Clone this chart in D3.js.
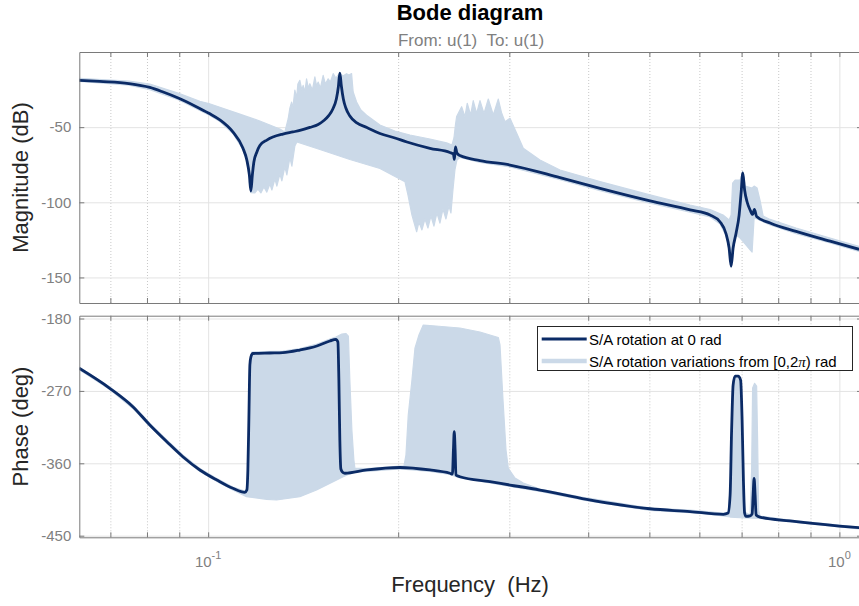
<!DOCTYPE html>
<html>
<head>
<meta charset="utf-8">
<title>Bode diagram</title>
<script src="https://d3js.org/d3.v7.min.js"></script>
<style>
body { margin: 0; background: #fff; }
text { font-family: "Liberation Sans", Arial, Helvetica, sans-serif; }
</style>
</head>
<body>
<script>
// nominal response, S/A rotation at 0 rad
var magFreq = [0.06247,0.06736,0.07488,0.08084,0.08445,0.08985,0.09526,0.10026,0.10436,0.10943,
  0.11350,0.11516,0.11622,0.11686,0.11750,0.11815,0.11945,0.12076,0.12388,0.12662,
  0.13133,0.13620,0.13972,0.14492,0.14938,0.15252,0.15534,0.15759,0.15962,0.16079,0.16167,
  0.16256,0.16375,0.16525,0.16768,0.17202,0.17841,0.18713,0.19765,0.20650,0.22458,
  0.24156,0.24466,0.24555,0.24645,0.24780,0.25053,0.26955,0.30075,0.36090,0.41771,
  0.50119,0.58005,0.62403,0.64721,0.66153,0.66882,0.67372,0.67865,0.68612,0.69368,
  0.69875,0.70310,0.70772,0.71421,0.72207,0.72869,0.73349,0.73941,0.77672,0.85395,
  0.96663,1.0745];
var magDb = [-18.8,-19.6,-21.0,-23.6,-26.3,-30.8,-35.9,-40.8,-45.2,-53.2,
  -63.9,-71.9,-81.8,-92.5,-81.8,-73.2,-66.5,-62.2,-58.6,-56.6,
  -54.6,-53.2,-52.2,-50.2,-48.2,-45.6,-42.2,-37.9,-31.3,-23.3,-14.0,
  -22.6,-31.3,-37.3,-42.6,-47.2,-50.2,-54.2,-57.2,-59.9,-64.1,
  -66.9,-67.9,-71.5,-63.2,-67.2,-68.9,-72.2,-75.2,-83.6,-90.8,
  -99.1,-105.1,-108.5,-113.1,-121.1,-130.4,-142.4,-130.4,-120.4,-108.5,
  -93.8,-80.5,-91.8,-99.8,-105.1,-108.1,-104.8,-109.4,-113.8,-119.4,
  -125.8,-131.3];

var phaseFreq = [0.06247,0.06985,0.07598,0.08084,0.08602,0.09119,0.09702,0.10323,0.10943,0.11433,
  0.11516,0.11559,0.11601,0.11644,0.11686,0.11772,0.12525,0.13133,0.13972,0.14867,
  0.15590,0.15935,0.16052,0.16110,0.16167,0.16228,0.16347,0.16467,0.17841,0.20130,
  0.22458,0.24156,0.24379,0.24466,0.24539,0.24619,0.24691,0.25053,0.27958,0.30075,
  0.33548,0.39781,0.50119,0.58005,0.65504,0.66638,0.67126,0.67496,0.67865,0.68363,
  0.69115,0.69748,0.70131,0.70465,0.70772,0.71161,0.72207,0.72736,0.73002,0.73269,
  0.73537,0.73806,0.74850,0.83546,1.0,1.0745];
var phaseDeg = [-241.9,-266.8,-289.6,-312.4,-333.2,-351.8,-368.3,-380.8,-391.1,-396.1,
  -393.2,-368.3,-306.2,-237.8,-227.9,-223.5,-222.9,-222.5,-219.2,-214.2,
  -208.0,-205.9,-209.2,-256.5,-331.0,-367.1,-371.4,-372.4,-368.3,-365.2,
  -368.3,-372.4,-373.3,-343.5,-320.7,-343.5,-374.6,-376.7,-382.9,-387.0,
  -393.2,-404.8,-416.5,-420.0,-423.4,-421.8,-399.4,-318.6,-262.7,-251.5,
  -251.5,-256.5,-306.2,-380.8,-421.8,-426.1,-425.5,-423.0,-399.4,-378.9,
  -399.4,-424.3,-426.8,-431.7,-438.0,-440.1];

// envelope of the variations over [0,2pi) rad : [freq Hz, value]
var magBandTop = [[0.06247,-17.5],[0.07488,-19.3],[0.08084,-21.3],[0.08985,-27.5],[0.09702,-32.8],
  [0.10026,-34.3],[0.11226,-41.3],[0.12076,-45.9],[0.12990,-51.2],[0.13229,-53.2],[0.13390,-44.4],
  [0.13473,-37.3],[0.13557,-33.3],[0.13620,-37.3],[0.13721,-25.3],[0.13806,-30.6],[0.13872,-21.3],
  [0.13972,-18.8],[0.14075,-25.3],[0.14142,-22.2],[0.14230,-26.6],[0.14319,-17.8],[0.14413,-24.0],
  [0.14492,-21.1],[0.14625,-25.3],[0.14759,-16.6],[0.14851,-22.6],[0.14938,-20.0],[0.15058,-24.0],
  [0.15213,-15.5],[0.15336,-21.3],[0.15493,-17.8],[0.15618,-20.0],[0.15779,-14.4],[0.15935,-17.3],
  [0.16167,-13.8],[0.16347,-16.0],[0.16569,-14.4],[0.16709,-15.3],[0.16874,-14.4],[0.16973,-26.6],
  [0.17186,-33.3],[0.17458,-38.6],[0.17825,-42.1],[0.18713,-48.6],[0.19765,-52.6],[0.20878,-55.2],
  [0.22458,-57.9],[0.23869,-60.5],[0.24334,-61.9],[0.24512,-57.2],[0.24645,-48.6],[0.24754,-43.0],
  [0.24963,-39.9],[0.25210,-36.4],[0.25515,-43.0],[0.25730,-34.1],[0.26051,-41.9],[0.26300,-32.4],
  [0.26628,-40.8],[0.26955,-32.4],[0.27352,-40.8],[0.27785,-31.3],[0.28297,-41.9],[0.28818,-31.3],
  [0.29178,-40.8],[0.29531,-46.4],[0.30075,-44.1],[0.30819,-54.1],[0.31569,-64.1],[0.33548,-71.9],
  [0.36090,-78.5],[0.41771,-86.2],[0.50119,-95.1],[0.58005,-101.8],[0.62403,-104.8],[0.65433,-108.5],
  [0.66882,-111.8],[0.67372,-108.5],[0.67742,-87.2],[0.68363,-85.2],[0.69621,-85.2],[0.70310,-79.8],
  [0.70902,-89.2],[0.72736,-90.5],[0.73269,-89.2],[0.74075,-90.5],[0.74850,-98.5],[0.75716,-109.1],
  [0.77672,-111.4],[0.85395,-117.1],[0.96663,-123.8],[1.0745,-129.4]];
var magBandBottom = [[0.06247,-19.6],[0.07488,-22.0],[0.08084,-25.0],[0.08985,-31.9],[0.09702,-38.9],
  [0.10026,-41.9],[0.10436,-46.2],[0.10943,-54.2],[0.11350,-64.9],[0.11516,-72.9],[0.11622,-83.2],
  [0.11686,-93.5],[0.11858,-93.8],[0.11989,-91.2],[0.12121,-93.8],[0.12254,-89.8],[0.12388,-93.2],
  [0.12525,-87.8],[0.12617,-91.8],[0.12756,-84.5],[0.12849,-89.2],[0.12990,-81.2],[0.13085,-85.8],
  [0.13229,-76.5],[0.13326,-81.8],[0.13473,-70.5],[0.13572,-75.9],[0.13721,-62.5],[0.13821,-59.9],
  [0.15031,-64.9],[0.16768,-71.5],[0.18713,-77.5],[0.20500,-86.3],[0.20726,-95.1],[0.21031,-108.5],
  [0.21395,-119.6],[0.21575,-113.1],[0.21812,-118.4],[0.22052,-111.1],[0.22295,-117.1],[0.22540,-109.1],
  [0.22788,-115.8],[0.23039,-107.1],[0.23292,-113.8],[0.23549,-104.5],[0.23808,-111.1],[0.24070,-102.5],
  [0.24246,-107.1],[0.24423,-91.8],[0.24601,-78.5],[0.24780,-71.9],[0.25053,-70.2],[0.26955,-73.5],
  [0.30075,-76.5],[0.36090,-85.0],[0.41771,-92.2],[0.50119,-100.5],[0.58005,-106.5],[0.62403,-109.8],
  [0.64721,-114.4],[0.66153,-122.4],[0.66882,-131.7],[0.67372,-143.4],[0.67865,-131.7],[0.68612,-121.8],
  [0.69621,-123.8],[0.70902,-127.7],[0.72207,-131.7],[0.72736,-133.1],[0.73269,-110.4],[0.74075,-111.1],
  [0.77672,-115.1],[0.85395,-120.8],[0.96663,-127.1],[1.0745,-132.7]];

var phaseBandTop = [[0.06247,-240.3],[0.06985,-265.2],[0.07598,-287.5],[0.08084,-310.5],[0.08602,-331.0],
  [0.09119,-349.7],[0.09702,-366.5],[0.10323,-378.9],[0.10943,-389.5],[0.11433,-394.4],[0.11516,-392.0],
  [0.11559,-368.3],[0.11601,-306.2],[0.11644,-234.1],[0.11729,-221.6],[0.13133,-220.4],[0.13972,-217.3],
  [0.14867,-211.7],[0.15590,-205.5],[0.15935,-203.0],[0.16288,-199.3],[0.16525,-198.6],[0.16679,-201.8],
  [0.16768,-256.5],[0.16893,-318.6],[0.17017,-355.9],[0.17079,-365.9],[0.17841,-366.5],[0.20130,-363.4],
  [0.20425,-363.4],[0.20575,-349.7],[0.20749,-300.0],[0.21031,-256.5],[0.21263,-217.0],[0.21575,-200.5],
  [0.21916,-188.1],[0.22458,-188.7],[0.25053,-191.8],[0.26955,-196.8],[0.28818,-203.6],[0.28997,-212.9],
  [0.29316,-281.3],[0.29639,-343.5],[0.29889,-366.2],[0.30628,-378.3],[0.31569,-384.5],[0.33548,-392.0],
  [0.39781,-403.1],[0.50119,-415.6],[0.58005,-418.1],[0.65433,-421.8],[0.66638,-420.5],[0.67126,-399.4],
  [0.67496,-318.6],[0.67865,-262.7],[0.68363,-251.5],[0.69115,-251.5],[0.69748,-256.5],[0.70131,-306.2],
  [0.70465,-380.8],[0.70772,-420.5],[0.72207,-424.3],[0.72604,-368.3],[0.72869,-266.4],[0.73403,-260.6],
  [0.73941,-263.9],[0.74211,-331.0],[0.74483,-418.1],[0.74850,-425.5],[0.83546,-430.5],[1.0745,-439.2]];
var phaseBandBottom = [[0.06247,-243.5],[0.06985,-268.4],[0.07598,-291.8],[0.08084,-314.3],[0.08602,-335.3],
  [0.09119,-353.9],[0.09702,-370.2],[0.10323,-382.6],[0.10943,-393.2],[0.11504,-401.5],[0.12376,-404.8],
  [0.12835,-405.6],[0.13972,-401.5],[0.14851,-393.2],[0.15779,-382.9],[0.16365,-376.7],[0.17079,-370.4],
  [0.17841,-370.2],[0.20130,-367.1],[0.22458,-370.2],[0.24156,-373.9],[0.25053,-378.3],[0.27958,-384.5],
  [0.30075,-388.8],[0.33548,-395.1],[0.39781,-406.3],[0.50119,-418.7],[0.58005,-421.2],[0.65433,-425.5],
  [0.67126,-426.8],[0.70902,-428.0],[0.74850,-428.6],[0.83546,-433.0],[1.0745,-441.7]];

var xMajor = [0.1, 1];
var xMinor = [0.07, 0.08, 0.09, 0.2, 0.3, 0.4, 0.5, 0.6, 0.7, 0.8, 0.9];
var xTickLabels = [{v: 0.1, base: "10", exp: "-1"}, {v: 1, base: "10", exp: "0"}];
var magTicks = [-150, -100, -50];
var phaseTicks = [-450, -360, -270, -180];
var legendLabels = ["S/A rotation at 0 rad", "S/A rotation variations from [0,2", ") rad"];

var darkBlue = "#0b2b66", lightBlue = "#cbd9e8";
var axisGray = "#7a7a7a", labelGray = "#808080";

var W = 859, H = 606;
var left = 79.3, right = 862;
var magTop = 52, magBottom = 303;
var phTop = 315.7, phBottom = 537.3;

var svg = d3.select("body").append("svg")
    .attr("width", W).attr("height", H)
    .style("display", "block");

var x = d3.scaleLog().domain([0.0625, 1.086]).range([left, right]);
var yMag = d3.scaleLinear().domain([-167, 0]).range([magBottom, magTop]);
var yPh = d3.scaleLinear().domain([-452, -176.5]).range([phBottom, phTop]);

function panel(name, y, top, bottom, yTicks) {
  var g = svg.append("g");
  svg.append("clipPath").attr("id", "clip-" + name)
    .append("rect").attr("x", left).attr("y", top)
    .attr("width", right - left).attr("height", bottom - top);

  // minor x grid (dotted)
  var gm = g.append("g").attr("transform", "translate(0," + bottom + ")")
    .call(d3.axisBottom(x).tickValues(xMinor).tickSize(-(bottom - top)).tickFormat(""));
  gm.select(".domain").remove();
  gm.selectAll("line").attr("stroke", "#c8c8c8").attr("stroke-dasharray", "1,2");

  // major x grid
  var gM = g.append("g").attr("transform", "translate(0," + bottom + ")")
    .call(d3.axisBottom(x).tickValues(xMajor).tickSize(-(bottom - top)).tickFormat(""));
  gM.select(".domain").remove();
  gM.selectAll("line").attr("stroke", "#e3e3e3");

  // y grid
  var gy = g.append("g").attr("transform", "translate(" + left + ",0)")
    .call(d3.axisLeft(y).tickValues(yTicks).tickSize(-(right - left)).tickFormat(""));
  gy.select(".domain").remove();
  gy.selectAll("line").attr("stroke", "#e3e3e3");

  return g;
}

var gMag = panel("mag", yMag, magTop, magBottom, magTicks);
var gPh = panel("ph", yPh, phTop, phBottom, phaseTicks);

function bandPath(y, top, bottom) {
  var pts = top.concat(bottom.slice().reverse());
  return d3.line().x(function(d) { return x(d[0]); }).y(function(d) { return y(d[1]); })(pts) + "Z";
}

gMag.append("path")
  .attr("clip-path", "url(#clip-mag)")
  .attr("d", bandPath(yMag, magBandTop, magBandBottom))
  .attr("fill", lightBlue).attr("stroke", lightBlue).attr("stroke-width", 1.2)
  .attr("stroke-linejoin", "round");

gPh.append("path")
  .attr("clip-path", "url(#clip-ph)")
  .attr("d", bandPath(yPh, phaseBandTop, phaseBandBottom))
  .attr("fill", lightBlue).attr("stroke", lightBlue).attr("stroke-width", 1.2)
  .attr("stroke-linejoin", "round");

var magLine = d3.line().curve(d3.curveMonotoneX)
  .x(function(d, i) { return x(magFreq[i]); })
  .y(function(d) { return yMag(d); });
gMag.append("path")
  .attr("clip-path", "url(#clip-mag)")
  .attr("d", magLine(magDb))
  .attr("fill", "none").attr("stroke", darkBlue).attr("stroke-width", 2.8)
  .attr("stroke-linejoin", "round");

var phLine = d3.line().curve(d3.curveMonotoneX)
  .x(function(d, i) { return x(phaseFreq[i]); })
  .y(function(d) { return yPh(d); });
gPh.append("path")
  .attr("clip-path", "url(#clip-ph)")
  .attr("d", phLine(phaseDeg))
  .attr("fill", "none").attr("stroke", darkBlue).attr("stroke-width", 2.8)
  .attr("stroke-linejoin", "round");

// axes frames and inward ticks
function frame(g, y, top, bottom, yTicks) {
  var allX = xMajor.concat(xMinor);
  var axes = [
    g.append("g").attr("transform", "translate(0," + bottom + ")")
      .call(d3.axisBottom(x).tickValues(allX).tickSize(-5).tickSizeOuter(0).tickFormat("")),
    g.append("g").attr("transform", "translate(0," + top + ")")
      .call(d3.axisTop(x).tickValues(allX).tickSize(-5).tickSizeOuter(0).tickFormat("")),
    g.append("g").attr("transform", "translate(" + right + ",0)")
      .call(d3.axisRight(y).tickValues(yTicks).tickSize(-5).tickSizeOuter(0).tickFormat("")),
    g.append("g").attr("transform", "translate(" + left + ",0)")
      .call(d3.axisLeft(y).tickValues(yTicks).tickSize(-5).tickSizeOuter(0).tickPadding(8)
        .tickFormat(function(d) { return String(d); }))
  ];
  axes.forEach(function(a) {
    a.select(".domain").attr("stroke", axisGray);
    a.selectAll("line").attr("stroke", axisGray);
    a.selectAll("text").attr("fill", labelGray).style("font-size", "15px")
      .style("font-family", '"Liberation Sans", Arial, sans-serif');
  });
}
frame(gMag, yMag, magTop, magBottom, magTicks);
frame(gPh, yPh, phTop, phBottom, phaseTicks);

// x tick labels 10^-1, 10^0
var xl = svg.append("g").selectAll("text").data(xTickLabels).enter().append("text")
  .attr("x", function(d) { return x(d.v); })
  .attr("y", 566.5)
  .attr("text-anchor", "middle")
  .attr("fill", labelGray).style("font-size", "15px");
xl.append("tspan").text(function(d) { return d.base; });
xl.append("tspan").attr("dy", -8).style("font-size", "11px").text(function(d) { return d.exp; });

// titles and labels
svg.append("text").attr("x", 470).attr("y", 20).attr("text-anchor", "middle")
  .style("font-size", "22px").style("font-weight", "bold").attr("fill", "#000")
  .text("Bode diagram");
svg.append("text").attr("x", 471).attr("y", 46).attr("text-anchor", "middle")
  .style("font-size", "17px").style("white-space", "pre").attr("fill", labelGray)
  .text("From: u(1)  To: u(1)");
svg.append("text").attr("x", 470).attr("y", 592).attr("text-anchor", "middle")
  .style("font-size", "22px").style("white-space", "pre").attr("fill", "#262626")
  .text("Frequency  (Hz)");
svg.append("text").attr("transform", "translate(28," + ((magTop + magBottom) / 2) + ") rotate(-90)")
  .attr("text-anchor", "middle").style("font-size", "22px").attr("fill", "#262626")
  .text("Magnitude (dB)");
svg.append("text").attr("transform", "translate(28," + ((phTop + phBottom) / 2) + ") rotate(-90)")
  .attr("text-anchor", "middle").style("font-size", "22px").attr("fill", "#262626")
  .text("Phase (deg)");

// legend
var lg = svg.append("g");
lg.append("rect").attr("x", 537.5).attr("y", 326.5).attr("width", 315).attr("height", 44)
  .attr("fill", "#fff").attr("stroke", "#262626").attr("stroke-width", 1);
lg.append("line").attr("x1", 541.7).attr("x2", 586.7).attr("y1", 339).attr("y2", 339)
  .attr("stroke", darkBlue).attr("stroke-width", 2.8);
lg.append("line").attr("x1", 541.7).attr("x2", 586.7).attr("y1", 361).attr("y2", 361)
  .attr("stroke", lightBlue).attr("stroke-width", 4.5);
lg.append("text").attr("x", 589).attr("y", 344.5).style("font-size", "15px").attr("fill", "#000")
  .text(legendLabels[0]);
var t2 = lg.append("text").attr("x", 589).attr("y", 366.5).style("font-size", "15px").attr("fill", "#000");
t2.append("tspan").text(legendLabels[1]);
t2.append("tspan").style("font-family", '"Liberation Serif", "DejaVu Serif", serif')
  .style("font-style", "italic").text("\u03C0");
t2.append("tspan").text(legendLabels[2]);
</script>
</body>
</html>
